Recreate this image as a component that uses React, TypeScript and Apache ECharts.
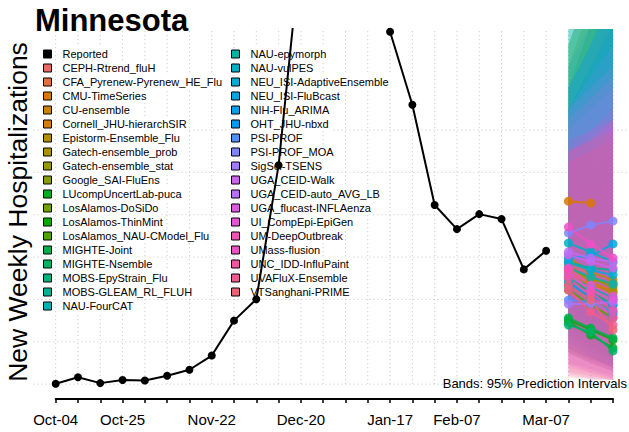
import React, { useEffect, useRef } from "react";
import * as echarts from "echarts";

const FONT = '"Liberation Sans", Arial, Helvetica, sans-serif';

// ---- x axis (weekly dates) ----
const weeks = [
  "Oct-04", "Oct-11", "Oct-18", "Oct-25", "Nov-01", "Nov-08", "Nov-15", "Nov-22",
  "Nov-29", "Dec-06", "Dec-13", "Dec-20", "Dec-27", "Jan-03", "Jan-10", "Jan-17",
  "Jan-24", "Jan-31", "Feb-07", "Feb-14", "Feb-21", "Feb-28", "Mar-07", "Mar-14",
  "Mar-21", "Mar-28",
];
const shownTickLabels = ["Oct-04", "Oct-25", "Nov-22", "Dec-20", "Jan-17", "Feb-07", "Mar-07"];

// ---- reported weekly hospitalizations (Oct-04 .. Mar-07) ----
const reported = [
  2, 33, 5, 20, 17, 40, 68, 135, 300, 401, 1034, 2060, 2500, 2450, 2150, 1664,
  1319, 846, 732, 803, 780, 542, 630,
];

// ---- horizontal grid values ----
const gridValues = [0, 200, 400, 600, 800, 1000, 1200];

// ---- forecast models (legend order) ----
const legendCol1Models = [
  "CEPH-Rtrend_fluH", "CFA_Pyrenew-Pyrenew_HE_Flu", "CMU-TimeSeries", "CU-ensemble",
  "Cornell_JHU-hierarchSIR", "Epistorm-Ensemble_Flu", "Gatech-ensemble_prob",
  "Gatech-ensemble_stat", "Google_SAI-FluEns", "LUcompUncertLab-puca", "LosAlamos-DoSiDo",
  "LosAlamos-ThinMint", "LosAlamos_NAU-CModel_Flu", "MIGHTE-Joint", "MIGHTE-Nsemble",
  "MOBS-EpyStrain_Flu", "MOBS-GLEAM_RL_FLUH", "NAU-FourCAT",
];
const legendCol2Models = [
  "NAU-epymorph", "NAU-vulPES", "NEU_ISI-AdaptiveEnsemble", "NEU_ISI-FluBcast",
  "NIH-Flu_ARIMA", "OHT_JHU-nbxd", "PSI-PROF", "PSI-PROF_MOA", "SigSci-TSENS",
  "UGA_CEID-Walk", "UGA_CEID-auto_AVG_LB", "UGA_flucast-INFLAenza", "UI_CompEpi-EpiGen",
  "UM-DeepOutbreak", "UMass-flusion", "UNC_IDD-InfluPaint", "UVAFluX-Ensemble",
  "VTSanghani-PRIME",
];
const models = [...legendCol1Models, ...legendCol2Models];

// hue (HCL) for each model, same order as `models`
const modelHues = [
  15, 25, 35, 55, 45, 65, 75, 85, 95, 135, 105, 125, 115, 145, 155, 165, 175, 195,
  185, 205, 215, 225, 235, 245, 255, 265, 275, 295, 285, 305, 315, 335, 325, 345, 355, 365,
];

const forecastWeeks = ["Mar-14", "Mar-21", "Mar-28"];

// point forecasts (median), same order as `models`
const forecastMedian: number[][] = [
  [577, 515, 468], [529, 478, 445], [864, 855], [562, 492, 478], [548, 482, 435],
  [596, 529, 492], [515, 468, 430], [539, 501, 459], [492, 445, 397], [294, 232, 171],
  [468, 397, 341], [303, 256, 209], [445, 374, 313], [313, 265, 218], [279, 246, 157],
  [501, 435, 374], [577, 548, 539], [548, 506, 473],
  [506, 459, 407], [666, 624, 577], [572, 539, 515], [596, 605, 662], [482, 416, 374],
  [468, 407, 327], [397, 388, 341], [714, 751, 770], [378, 378, 388], [610, 577, 548],
  [624, 596, 577], [515, 445, 397], [548, 468, 416], [539, 435, 350], [742, 662, 596],
  [501, 416, 313], [445, 341, 279], [468, 397, 256],
];
// 95% interval lower bounds
const forecastLower: number[][] = [
  [380, 300, 240], [350, 280, 220], [620, 580], [360, 290, 230], [330, 250, 180],
  [380, 320, 260], [300, 230, 170], [320, 250, 190], [280, 200, 140], [150, 110, 80],
  [250, 180, 120], [160, 120, 90], [220, 150, 100], [170, 120, 80], [140, 100, 60],
  [260, 180, 120], [320, 270, 220], [290, 220, 160],
  [240, 170, 110], [360, 280, 210], [330, 270, 210], [340, 300, 280], [200, 140, 80],
  [200, 130, 70], [180, 130, 80], [400, 350, 320], [100, 70, 40], [150, 100, 60],
  [170, 120, 80], [90, 60, 30], [80, 50, 25], [60, 40, 20], [150, 100, 60],
  [40, 25, 20], [50, 30, 20], [30, 20, 20],
];
// 95% interval upper bounds
const forecastUpper: number[][] = [
  [1500, 1800, 2100], [850, 900, 950], [1150, 1200], [950, 1000, 1100], [1400, 1700, 2000],
  [1300, 1500, 1800], [900, 950, 1000], [950, 1000, 1100], [1600, 1900, 2200], [1600, 1900, 2200],
  [1500, 1800, 2100], [1400, 1700, 2000], [1600, 1900, 2200], [1400, 1600, 1900], [1300, 1500, 1700],
  [1800, 2100, 2400], [1700, 2000, 2300], [1600, 1900, 2200],
  [1800, 2100, 2400], [1900, 2200, 2600], [1500, 1700, 1900], [1400, 1600, 1900], [1400, 1600, 1800],
  [1300, 1500, 1700], [1400, 1600, 1800], [1300, 1450, 1600], [1200, 1300, 1400], [1250, 1350, 1450],
  [1300, 1400, 1500], [1100, 1150, 1250], [1100, 1200, 1300], [1050, 1100, 1200], [1150, 1200, 1250],
  [1100, 1150, 1250], [1050, 1100, 1150], [1100, 1150, 1200],
];

// ---- colour helper (polar LUV -> sRGB) ----
function hcl(h: number, c: number, l: number): string {
  const hr = (h * Math.PI) / 180;
  const u = c * Math.cos(hr);
  const v = c * Math.sin(hr);
  const Xn = 95.047, Yn = 100, Zn = 108.883;
  const un = (4 * Xn) / (Xn + 15 * Yn + 3 * Zn);
  const vn = (9 * Yn) / (Xn + 15 * Yn + 3 * Zn);
  const Y = l > 8 ? Yn * Math.pow((l + 16) / 116, 3) : (Yn * l) / 903.3;
  const up = u / (13 * l) + un;
  const vp = v / (13 * l) + vn;
  const X = (9 * Y * up) / (4 * vp);
  const Z = (Y * (12 - 3 * up - 20 * vp)) / (4 * vp);
  const x = X / 100, y = Y / 100, z = Z / 100;
  const lin = [
    3.2404542 * x - 1.5371385 * y - 0.4985314 * z,
    -0.969266 * x + 1.8760108 * y + 0.041556 * z,
    0.0556434 * x - 0.2040259 * y + 1.0572252 * z,
  ];
  return (
    "#" +
    lin
      .map((cc) => {
        const g = cc <= 0.0031308 ? 12.92 * cc : 1.055 * Math.pow(cc, 1 / 2.4) - 0.055;
        const n = Math.max(0, Math.min(255, Math.round(g * 255)));
        return n.toString(16).padStart(2, "0");
      })
      .join("")
  );
}
const modelColors = modelHues.map((h) => hcl(h, 100, 60));

// ---- layout constants ----
const PLOT_TOP = 29;
const PLOT_BOTTOM = 33;
const GRID0_LEFT = 33.4;
const AXIS_LEFT = 55.7;
const AXIS_RIGHT = 16;
const Y_MIN = -70;
const Y_MAX = 1677;
const STEP = (629 - AXIS_LEFT - AXIS_RIGHT) / (weeks.length - 1);
const X_MAX = -1 + (629 - GRID0_LEFT) / STEP;
const BAND_ALPHA = 0.15;

function buildOption() {
  const fIdx = forecastWeeks.map((w) => weeks.indexOf(w));
  const gridStyle = { color: "#c4c4c4", width: 1, type: [1, 3] as number[] };

  const series: any[] = [];
  // horizontal grid lines
  gridValues.forEach((gv) => {
    series.push({
      type: "line", xAxisIndex: 0, yAxisIndex: 0, silent: true, z: 1,
      symbol: "none", lineStyle: gridStyle,
      data: [[-1, gv], [X_MAX, gv]],
    });
  });
  // vertical grid lines
  weeks.forEach((_, i) => {
    series.push({
      type: "line", xAxisIndex: 0, yAxisIndex: 0, silent: true, z: 1,
      symbol: "none", lineStyle: gridStyle,
      data: [[i, gridValues[0]], [i, Y_MAX]],
    });
  });
  // prediction-interval bands: one group, polygons in model order (later on top)
  series.push({
    type: "custom", xAxisIndex: 0, yAxisIndex: 0, silent: true, z: 2, clip: true,
    data: [[fIdx[0], 0]],
    encode: { x: 0, y: 1 },
    renderItem: (params: any, api: any) => {
      const children = models.map((_, i) => {
        const lo = forecastLower[i];
        const up = forecastUpper[i];
        const top: number[][] = [];
        const bot: number[][] = [];
        for (let k = 0; k < lo.length; k++) {
          top.push(api.coord([fIdx[k], up[k]]));
          bot.push(api.coord([fIdx[k], lo[k]]));
        }
        return {
          type: "polygon",
          z2: i,
          shape: { points: top.concat(bot.reverse()) },
          style: { fill: modelColors[i], opacity: BAND_ALPHA },
        };
      });
      return { type: "group", children };
    },
  });
  // model point forecasts
  models.forEach((name, i) => {
    series.push({
      name, type: "line", xAxisIndex: 0, yAxisIndex: 0, z: 3,
      symbol: "circle", symbolSize: 9,
      itemStyle: { color: modelColors[i], opacity: 0.85 },
      lineStyle: { color: modelColors[i], width: 2, opacity: 0.85 },
      data: forecastMedian[i].map((v, k) => [fIdx[k], v]),
    });
  });
  // reported
  series.push({
    name: "Reported", type: "line", xAxisIndex: 0, yAxisIndex: 0, z: 10,
    symbol: "circle", symbolSize: 8,
    itemStyle: { color: "#000" },
    lineStyle: { color: "#000", width: 2 },
    data: reported.map((v, i) => [i, v]),
  });

  const legendCommon = {
    orient: "vertical", icon: "rect", itemWidth: 8, itemHeight: 8, itemGap: 0,
    padding: 0, selectedMode: false, z: 4,
    itemStyle: { borderColor: "#000", borderWidth: 1, opacity: 1 },
    textStyle: {
      fontSize: 11, color: "#000", lineHeight: 14, fontFamily: FONT,
      backgroundColor: "#fff", padding: [0, 2, 0, 6],
    },
  };

  return {
    animation: false,
    textStyle: { fontFamily: FONT },
    grid: [
      { left: GRID0_LEFT, right: 0, top: PLOT_TOP, bottom: PLOT_BOTTOM },
      { left: AXIS_LEFT, right: AXIS_RIGHT, top: PLOT_TOP, bottom: PLOT_BOTTOM },
    ],
    xAxis: [
      { type: "value", gridIndex: 0, min: -1, max: X_MAX, show: false },
      {
        type: "category", gridIndex: 1, data: weeks, boundaryGap: false,
        axisLine: { show: true, lineStyle: { color: "#000", width: 2 } },
        axisTick: { show: true, interval: 0, length: 4, lineStyle: { color: "#000", width: 1.5 } },
        axisLabel: {
          interval: (_idx: number, val: string) => shownTickLabels.includes(val),
          color: "#000", fontSize: 15, margin: 13, fontFamily: FONT,
        },
        splitLine: { show: false },
      },
    ],
    yAxis: [
      { type: "value", gridIndex: 0, min: Y_MIN, max: Y_MAX, show: false },
      { type: "value", gridIndex: 1, show: false, splitLine: { show: false } },
    ],
    legend: [
      { ...legendCommon, left: 43, top: 47, data: ["Reported", ...legendCol1Models] },
      { ...legendCommon, left: 231, top: 47, data: legendCol2Models },
    ],
    graphic: [
      {
        type: "text", x: 35, y: 20, z: 20,
        style: {
          text: "Minnesota", fontSize: 31, fontWeight: "bold", fontFamily: FONT,
          fill: "#000", align: "left", verticalAlign: "middle",
        },
      },
      {
        type: "text", x: 18, y: 212, rotation: Math.PI / 2, z: 20,
        style: {
          text: "New Weekly Hospitalizations", fontSize: 26.5, fontFamily: FONT,
          fill: "#000", align: "center", verticalAlign: "middle",
        },
      },
      {
        type: "text", x: 627, y: 383, z: 20,
        style: {
          text: "Bands: 95% Prediction Intervals", fontSize: 13, fontFamily: FONT,
          fill: "#000", align: "right", verticalAlign: "middle",
        },
      },
    ],
    series,
  };
}

export default function App() {
  const ref = useRef<HTMLDivElement>(null);
  useEffect(() => {
    if (!ref.current) return;
    const chart = echarts.init(ref.current, null, { renderer: "svg" });
    chart.setOption(buildOption() as any);
    return () => chart.dispose();
  }, []);
  return (
    <div
      ref={ref}
      style={{ position: "fixed", left: 0, top: 0, width: 629, height: 432, background: "#fff" }}
    />
  );
}
